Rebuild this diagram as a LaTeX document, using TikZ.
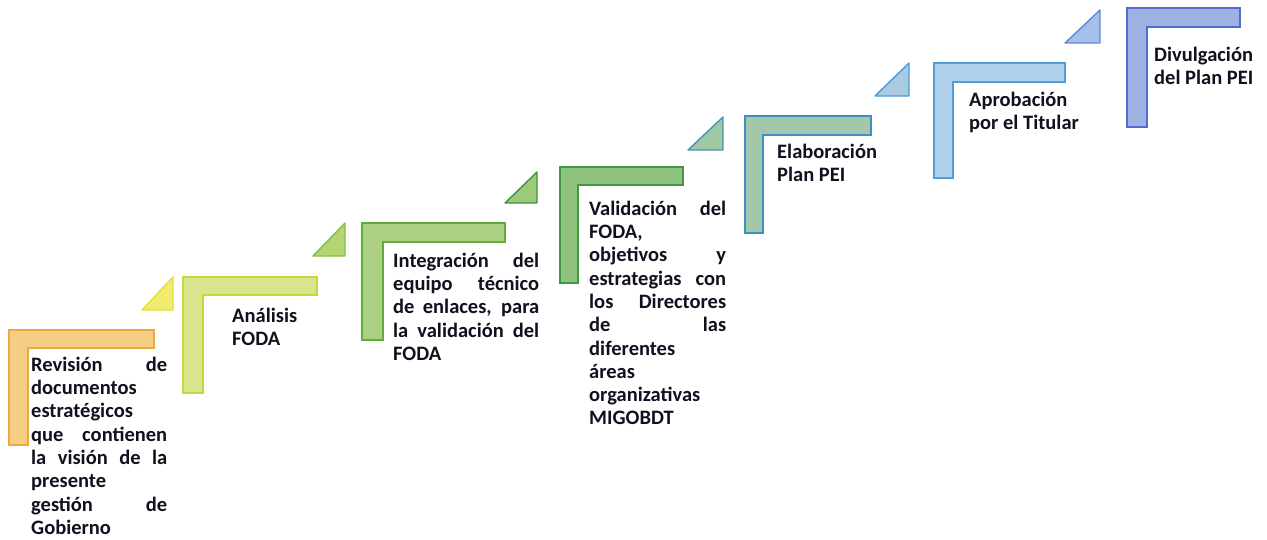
\documentclass[tikz,border=0pt]{standalone}
\usepackage{fontspec}
\setmainfont{Carlito}
\definecolor{txt}{HTML}{10101F}
\definecolor{fA}{HTML}{F4CE84}\definecolor{dA}{HTML}{EDAA3C}
\definecolor{fB}{HTML}{D9E48C}\definecolor{dB}{HTML}{C4D73C}
\definecolor{fBt}{HTML}{F2EC6C}\definecolor{dBt}{HTML}{E6DE3A}
\definecolor{fC}{HTML}{ADCF82}\definecolor{dC}{HTML}{62AC3E}
\definecolor{fCt}{HTML}{B3D574}\definecolor{dCt}{HTML}{86BE40}
\definecolor{fD}{HTML}{8FC17F}\definecolor{dD}{HTML}{3D9A42}
\definecolor{fDt}{HTML}{9DC97B}\definecolor{dDt}{HTML}{3F9440}
\definecolor{fE}{HTML}{A2C8A9}\definecolor{dE}{HTML}{3F8FC6}
\definecolor{fEt}{HTML}{9FC9A4}\definecolor{dEt}{HTML}{4690C0}
\definecolor{fF}{HTML}{AFCFEA}\definecolor{dF}{HTML}{4C9EDD}
\definecolor{fFt}{HTML}{A9CBE2}\definecolor{dFt}{HTML}{4C9BD8}
\definecolor{fG}{HTML}{9DB1E3}\definecolor{dG}{HTML}{4F6FD0}
\definecolor{fGt}{HTML}{A6C0E9}\definecolor{dGt}{HTML}{5A8AD8}
\newcommand{\jst}[2]{\makebox[#1pt][s]{#2}}
\newcommand{\fst}{\rule{0pt}{18pt}}
% L shape: style, x0,y0,x1,y1,th,tv
\newcommand{\lshape}[7]{%
  \draw[#1,line width=1.4pt,line join=miter] (#2,#3) -- (#4,#3) -- (#4,#3+#6) -- (#2+#7,#3+#6) -- (#2+#7,#5) -- (#2,#5) -- cycle;}
\newcommand{\tri}[5]{%
  \draw[#1,line width=1.4pt,line join=round] (#2,#5) -- (#3,#5) -- (#3,#4) -- cycle;}
\begin{document}
\begin{tikzpicture}[x=1pt,y=-1pt,
  lbl/.style={anchor=north west, inner sep=0pt, align=left,
    font=\fontsize{20.5}{23.3}\selectfont\bfseries, text=txt}]
\useasboundingbox (0,0) rectangle (1267,539);
\fill[white] (0,0) rectangle (1267,539);
% L shapes
\lshape{fill=fA,draw=dA}{9}{330}{154}{445}{18}{19}
\lshape{fill=fB,draw=dB}{183}{277}{317}{393}{18}{20}
\lshape{fill=fC,draw=dC}{362}{223}{505}{340}{19}{21}
\lshape{fill=fD,draw=dD}{560}{167}{683}{283}{18}{18}
\lshape{fill=fE,draw=dE}{745}{116}{871}{233}{19}{18}
\lshape{fill=fF,draw=dF}{934}{63}{1065}{178}{19}{19}
\lshape{fill=fG,draw=dG}{1127}{8}{1240}{127}{19}{20}
% triangles
\tri{fill=fBt,draw=dBt}{142}{173}{277}{310}
\tri{fill=fCt,draw=dCt}{313}{345}{223}{256}
\tri{fill=fDt,draw=dDt}{505}{537}{172}{203}
\tri{fill=fEt,draw=dEt}{688}{723}{117}{150}
\tri{fill=fFt,draw=dFt}{875}{909}{63}{96}
\tri{fill=fGt,draw=dGt}{1065}{1100}{10}{43}
% texts
\node[lbl] (t1) at (31,353) {\fst\jst{136}{Revisión de}\\documentos\\estratégicos\\\jst{136}{que contienen}\\\jst{136}{la visión de la}\\presente\\\jst{136}{gestión de}\\Gobierno};
\node[lbl] (t2) at (232,304) {\fst Análisis\\FODA};
\node[lbl] (t3) at (393,249) {\fst\jst{146}{Integración del}\\\jst{146}{equipo técnico}\\\jst{146}{de enlaces, para}\\\jst{146}{la validación del}\\FODA};
\node[lbl] (t4) at (589,197) {\fst\jst{137}{Validación del}\\FODA,\\\jst{137}{objetivos y}\\\jst{137}{estrategias con}\\\jst{137}{los Directores}\\\jst{137}{de las}\\diferentes\\áreas\\organizativas\\MIGOBDT};
\node[lbl] (t5) at (777,140) {\fst Elaboración\\Plan PEI};
\node[lbl] (t6) at (969,88) {\fst Aprobación\\por el Titular};
\node[lbl] (t7) at (1154,43) {\fst Divulgación\\del Plan PEI};
\end{tikzpicture}
\end{document}
